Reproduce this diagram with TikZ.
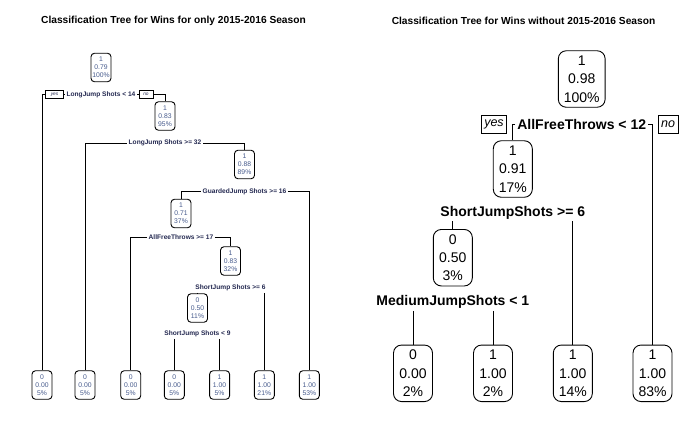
\documentclass[tikz,border=0pt]{standalone}
\usepackage{fontspec}
\setmainfont{Liberation Sans}
\usetikzlibrary{positioning}

\definecolor{lefttext}{RGB}{70,90,140}
\definecolor{leftlabel}{RGB}{35,40,80}

\tikzset{
  lnode/.style={draw, rounded corners=3.5pt, align=center, line width=0.9pt, text=lefttext,
    font=\fontsize{6.8}{7.9}\selectfont, minimum width=20pt, minimum height=28.5pt, inner sep=1.2pt},
  rnode/.style={draw, rounded corners=8pt, align=center, line width=0.9pt,
    font=\fontsize{14}{18.3}\selectfont, minimum width=39pt, minimum height=56.5pt,
    inner xsep=5.5pt, inner ysep=1pt},
  lsplit/.style={font=\bfseries\fontsize{6.6}{7}\selectfont, text=leftlabel, inner sep=1.5pt},
  rsplit/.style={font=\bfseries\fontsize{14}{16}\selectfont, inner sep=2pt},
  lyesno/.style={draw, line width=0.7pt, font=\itshape\fontsize{4.8}{5}\selectfont, text=leftlabel,
    minimum height=8.5pt, inner sep=1pt},
  ryesno/.style={draw, line width=0.8pt, font=\itshape\fontsize{12.5}{13}\selectfont,
    minimum height=17.5pt, inner sep=3pt},
  branch/.style={line width=0.9pt},
  heading/.style={font=\bfseries\fontsize{10.2}{12}\selectfont}
}

\begin{document}
\begin{tikzpicture}[x=1pt,y=-1pt]
  \useasboundingbox (0,0) rectangle (700,432);

  \node[heading] (ltitle) at (173.5,21) {Classification Tree for Wins for only 2015-2016 Season};
  \node[heading] (rtitle) at (523.5,21) {Classification Tree for Wins without 2015-2016 Season};

  % left tree
  \node[lnode] (ln1) at (101,67.5) {1\\0.79\\100\%};
  \node[lnode] (ln2) at (165,116) {1\\0.83\\95\%};
  \node[lnode] (ln3) at (244.5,164.5) {1\\0.88\\89\%};
  \node[lnode] (ln4) at (181,213.5) {1\\0.71\\37\%};
  \node[lnode] (ln5) at (230.5,261) {1\\0.83\\32\%};
  \node[lnode] (ln6) at (197.5,308) {0\\0.50\\11\%};

  \node[lnode] (lf1) at (42,385) {0\\0.00\\5\%};
  \node[lnode] (lf2) at (85,385) {0\\0.00\\5\%};
  \node[lnode] (lf3) at (130.7,385) {0\\0.00\\5\%};
  \node[lnode] (lf4) at (174.3,385) {0\\0.00\\5\%};
  \node[lnode] (lf5) at (219.6,385) {1\\1.00\\5\%};
  \node[lnode] (lf6) at (264.3,385) {1\\1.00\\21\%};
  \node[lnode] (lf7) at (309.3,385) {1\\1.00\\53\%};

  \node[lsplit, below=7.5pt of ln1] (ls1) {LongJump Shots < 14};
  \node[lsplit, below=7.5pt of ln2] (ls2) {LongJump Shots >= 32};
  \node[lsplit, below=7.5pt of ln3] (ls3) {GuardedJump Shots >= 16};
  \node[lsplit, below=5pt of ln4] (ls4) {AllFreeThrows >= 17};
  \node[lsplit, below=7.5pt of ln5] (ls5) {ShortJump Shots >= 6};
  \node[lsplit, below=6.5pt of ln6] (ls6) {ShortJump Shots < 9};

  \node[lyesno, minimum width=18pt, left=1pt of ls1] (lyes) {yes};
  \node[lyesno, minimum width=14pt, right=1.5pt of ls1] (lno) {no};

  \draw[branch] (ls1.west) -- (lyes.east);
  \draw[branch] (lyes.west) -| (lf1.north);
  \draw[branch] (ls1.east) -- (lno.west);
  \draw[branch] (lno.east) -| (ln2.north);
  \draw[branch] (ls2.west) -| (lf2.north);
  \draw[branch] (ls2.east) -| (ln3.north);
  \draw[branch] (ls3.west) -| (ln4.north);
  \draw[branch] (ls3.east) -| (lf7.north);
  \draw[branch] (ls4.west) -| (lf3.north);
  \draw[branch] (ls4.east) -| (ln5.north);
  \draw[branch] (ln6.north |- ls5.south) -- (ln6.north);
  \draw[branch] (lf6.north |- ls5.south) -- (lf6.north);
  \draw[branch] (lf4.north |- ls6.south) -- (lf4.north);
  \draw[branch] (lf5.north |- ls6.south) -- (lf5.north);

  % right tree
  \node[rnode] (rn1) at (581.7,79) {1\\0.98\\100\%};
  \node[rnode] (rn2) at (512.8,169) {1\\0.91\\17\%};
  \node[rnode] (rn3) at (452.8,257.7) {0\\0.50\\3\%};

  \node[rnode] (rf1) at (413,373.3) {0\\0.00\\2\%};
  \node[rnode] (rf2) at (493,373.3) {1\\1.00\\2\%};
  \node[rnode] (rf3) at (572.8,373.3) {1\\1.00\\14\%};
  \node[rnode] (rf4) at (652.5,373.3) {1\\1.00\\83\%};

  \node[rsplit, below=9.5pt of rn1] (rs1) {AllFreeThrows < 12};
  \node[rsplit, below=6pt of rn2] (rs2) {ShortJumpShots >= 6};
  \node[rsplit, below=7pt of rn3] (rs3) {MediumJumpShots < 1};

  \node[ryesno, left=8pt of rs1] (ryes) {yes};
  \node[ryesno, right=9.5pt of rs1] (rno) {no};

  \draw[branch] (rs1.west) -| (rn2.north);
  \draw[branch] (rs1.east) -| (rf4.north);
  \draw[branch] (rn3.north |- rs2.south) -- (rn3.north);
  \draw[branch] (rf3.north |- rs2.south) -- (rf3.north);
  \draw[branch] (rf1.north |- rs3.south) -- (rf1.north);
  \draw[branch] (rf2.north |- rs3.south) -- (rf2.north);
\end{tikzpicture}
\end{document}
